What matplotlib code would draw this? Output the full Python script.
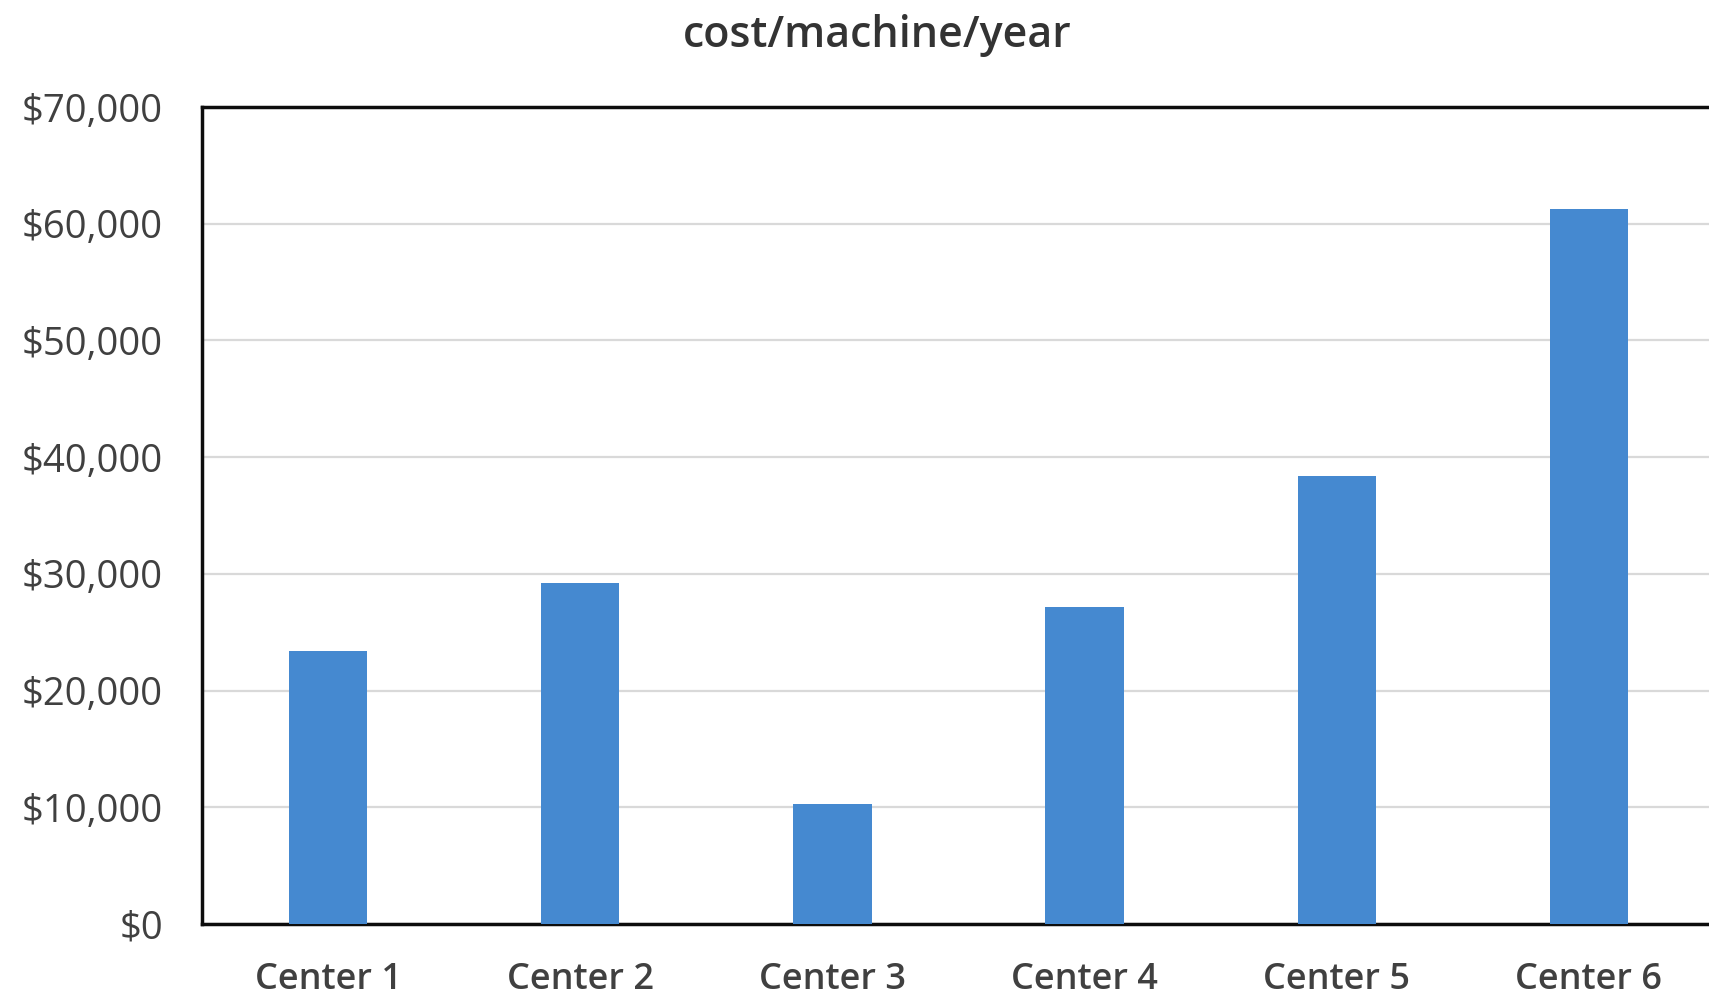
import matplotlib.pyplot as plt
from matplotlib.ticker import FuncFormatter

# data
centers = ["Center 1", "Center 2", "Center 3", "Center 4", "Center 5", "Center 6"]
cost = [23400, 29200, 10300, 27200, 38400, 61300]
y_ticks = [0, 10000, 20000, 30000, 40000, 50000, 60000, 70000]

plt.rcParams["font.family"] = ["Open Sans", "DejaVu Sans"]

fig = plt.figure(figsize=(17.09, 9.96), dpi=100)
ax = fig.add_axes([202 / 1709, 72 / 996, 1513 / 1709, 817 / 996])

x = range(len(centers))
ax.bar(x, cost, width=0.31, color="#4589D0", zorder=3)

ax.set_xlim(-0.5, len(centers) - 0.5)
ax.set_ylim(0, 70000)
ax.set_yticks(y_ticks)
ax.yaxis.set_major_formatter(FuncFormatter(lambda v, p: f"${v:,.0f}"))
ax.set_xticks(list(x))
ax.set_xticklabels(centers, fontsize=26, fontweight="semibold", color="#404040")
ax.tick_params(axis="y", length=0, pad=28, labelsize=27.5, labelcolor="#404040")
ax.tick_params(axis="x", length=0, pad=27)

ax.grid(axis="y", color="#D9D9D9", linewidth=1.6, zorder=0)
for side in ["left", "bottom", "top"]:
    ax.spines[side].set_linewidth(2.5)
    ax.spines[side].set_color("#0d0d0d")
ax.spines["right"].set_visible(False)

fig.text(877 / 1709, 1 - 47 / 996, "cost/machine/year", ha="center", va="baseline",
         fontsize=31, fontweight="semibold", color="#333333")

fig.savefig("out.png", dpi=100)
